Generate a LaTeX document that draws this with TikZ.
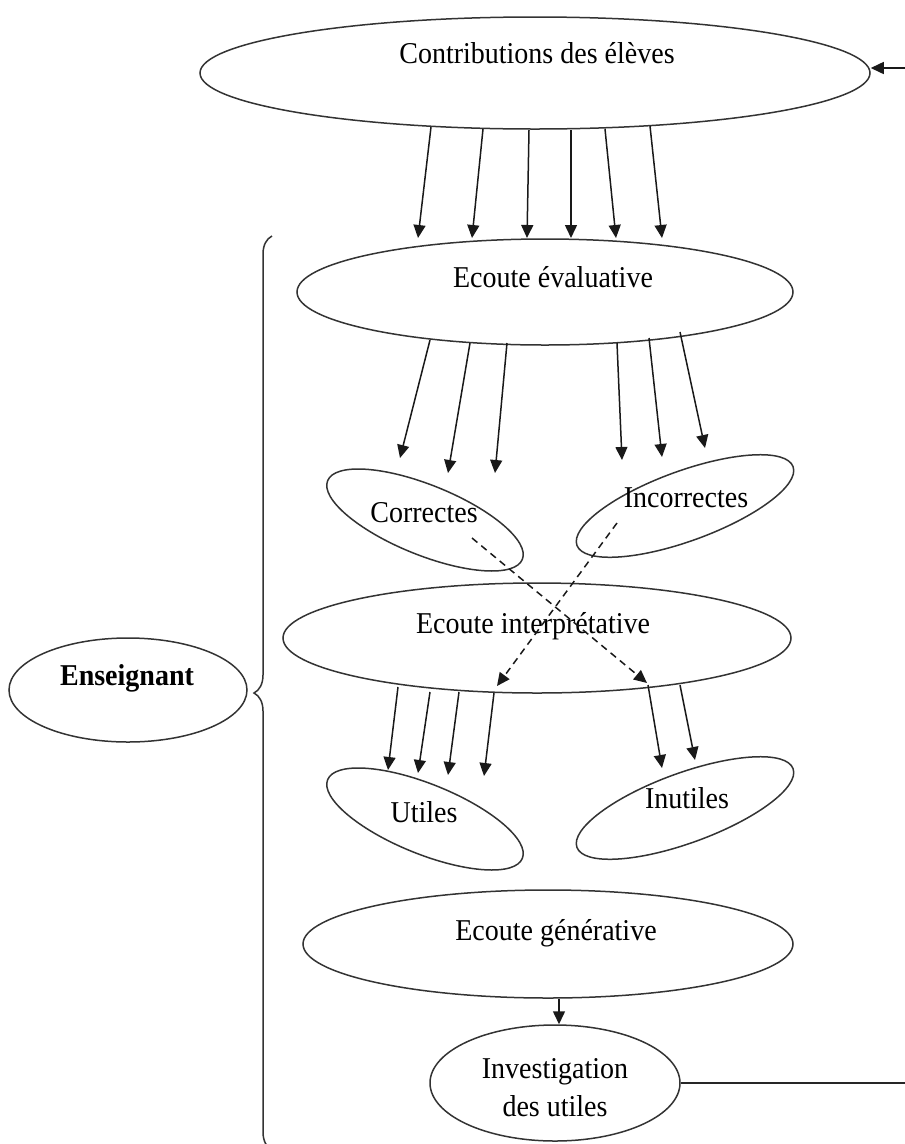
\documentclass[tikz,border=0pt]{standalone}
\usepackage{fontspec}
\setmainfont{Liberation Serif}
\usetikzlibrary{shapes.geometric,arrows.meta,calc,decorations.pathreplacing}
\begin{document}
\begin{tikzpicture}[x=1pt,y=-1pt,
  ell/.style={draw=black!80, ellipse, line width=1.5pt, inner sep=0pt},
  lbl/.style={font=\fontsize{28}{35}\selectfont, inner sep=0pt, anchor=base, yscale=1.08, transform shape},
  arr/.style={-{Triangle[length=13pt,width=12pt]}, line width=1.5pt, draw=black!90},
  darr/.style={arr, dash pattern=on 7pt off 5pt}]
\useasboundingbox (0,0) rectangle (905,1144);
% ellipses
\node[ell, minimum width=670pt, minimum height=112pt] (contrib) at (535,73) {};
\node[ell, minimum width=496pt, minimum height=106pt] (eval) at (545,292) {};
\node[ell, minimum width=210pt, minimum height=70pt, rotate=-22] (cor) at (425,520) {};
\node[ell, minimum width=230pt, minimum height=70pt, rotate=20] (inc) at (685,506) {};
\node[ell, minimum width=508pt, minimum height=110pt] (interp) at (537,638) {};
\node[ell, minimum width=210pt, minimum height=70pt, rotate=-22] (util) at (425,819) {};
\node[ell, minimum width=230pt, minimum height=70pt, rotate=20] (inutil) at (685,808) {};
\node[ell, minimum width=490pt, minimum height=108pt] (gen) at (548,944) {};
\node[ell, minimum width=250pt, minimum height=116pt] (invest) at (555,1083) {};
\node[ell, minimum width=238pt, minimum height=104pt] (ens) at (128,690) {};
% texts
\node[lbl] (contribT) at ($(contrib.center)+(2,-10)$) {Contributions des élèves};
\node[lbl] (evalT) at ($(eval.center)+(8,-5)$) {Ecoute évaluative};
\node[lbl] (corT) at ($(cor.center)+(-1,2)$) {Correctes};
\node[lbl] (incT) at ($(inc.center)+(1,1)$) {Incorrectes};
\node[lbl] (interpT) at ($(interp.center)+(-4,-5)$) {Ecoute interprétative};
\node[lbl] (utilT) at ($(util.center)+(-1,3)$) {Utiles};
\node[lbl] (inutilT) at ($(inutil.center)+(2,0)$) {Inutiles};
\node[lbl] (genT) at ($(gen.center)+(8,-4)$) {Ecoute générative};
\node[lbl, anchor=center, align=center] (investT) at ($(invest.center)+(0,5)$) {Investigation\\des utiles};
\node[lbl] (ensT) at ($(ens.center)+(-1,-5)$) {\bfseries Enseignant};
% contributions -> evaluative
\draw[arr] ($(contrib.center)+(-104,54)$) -- ($(eval.center)+(-127,-54)$);
\draw[arr] ($(contrib.center)+(-52,56)$) -- ($(eval.center)+(-73,-54)$);
\draw[arr] ($(contrib.center)+(-6,57)$) -- ($(eval.center)+(-18,-54)$);
\draw[arr] ($(contrib.center)+(36,57)$) -- ($(eval.center)+(26,-54)$);
\draw[arr] ($(contrib.center)+(70,56)$) -- ($(eval.center)+(71,-54)$);
\draw[arr] ($(contrib.center)+(115,53)$) -- ($(eval.center)+(117,-54)$);
% evaluative -> correctes / incorrectes
\draw[arr] ($(eval.center)+(-115,48)$) -- ($(cor.center)+(-25,-62)$);
\draw[arr] ($(eval.center)+(-75,51)$) -- ($(cor.center)+(23,-47)$);
\draw[arr] ($(eval.center)+(-38,51)$) -- ($(cor.center)+(70,-47)$);
\draw[arr] ($(eval.center)+(72,51)$) -- ($(inc.center)+(-63,-46)$);
\draw[arr] ($(eval.center)+(104,46)$) -- ($(inc.center)+(-23,-49)$);
\draw[arr] ($(eval.center)+(135,40)$) -- ($(inc.center)+(20,-58)$);
% dashed crossings
\draw[darr] ($(cor.center)+(47,18)$) -- ($(interp.center)+(110,45)$);
\draw[darr] ($(inc.center)+(-68,17)$) -- ($(interp.center)+(-40,48)$);
% interpretative -> utiles / inutiles
\draw[arr] ($(interp.center)+(-139,49)$) -- ($(util.center)+(-37,-49)$);
\draw[arr] ($(interp.center)+(-107,54)$) -- ($(util.center)+(-7,-46)$);
\draw[arr] ($(interp.center)+(-78,54)$) -- ($(util.center)+(23,-44)$);
\draw[arr] ($(interp.center)+(-43,55)$) -- ($(util.center)+(59,-43)$);
\draw[arr] ($(interp.center)+(111,47)$) -- ($(inutil.center)+(-23,-40)$);
\draw[arr] ($(interp.center)+(143,47)$) -- ($(inutil.center)+(10,-48)$);
% generative -> investigation
\draw[arr] ([xshift=4pt]gen.south -| invest.north) -- ([xshift=4pt]invest.north);
% feedback loop
\coordinate (retB) at (905,1080);
\coordinate (retT) at (905,68);
\draw[line width=1.5pt, draw=black!85] (invest.east) -- (invest.east -| retB);
\draw[arr] (retT) -- (retT -| contrib.east);
% brace
\draw[line width=1.5pt, draw=black!80, decorate, decoration={brace, amplitude=18pt}] (272,1150) -- (272,236);
\end{tikzpicture}
\end{document}
